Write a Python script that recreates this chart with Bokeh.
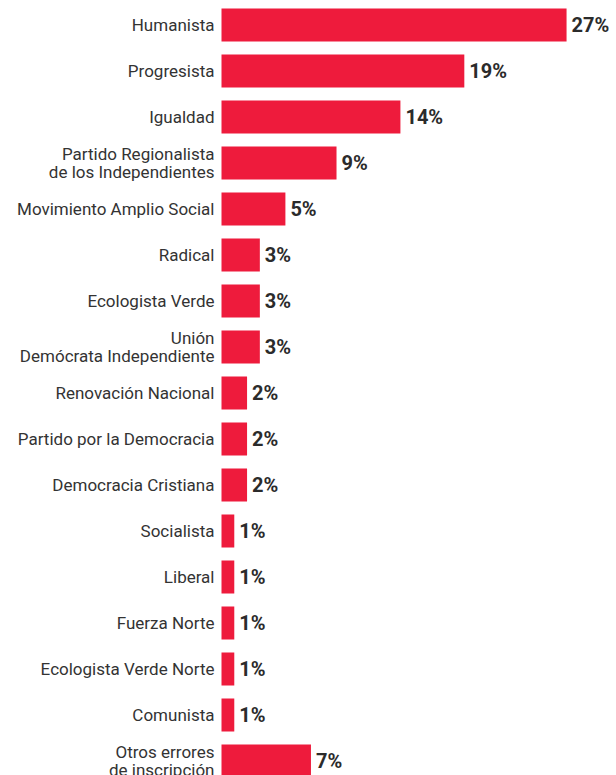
from bokeh.plotting import figure
from bokeh.models import Range1d, ColumnDataSource
from bokeh.core.properties import value
from bokeh.embed import file_html
from bokeh.resources import INLINE

categories = [
    "Humanista",
    "Progresista",
    "Igualdad",
    "Partido Regionalista\nde los Independientes",
    "Movimiento Amplio Social",
    "Radical",
    "Ecologista Verde",
    "Unión\nDemócrata Independiente",
    "Renovación Nacional",
    "Partido por la Democracia",
    "Democracia Cristiana",
    "Socialista",
    "Liberal",
    "Fuerza Norte",
    "Ecologista Verde Norte",
    "Comunista",
    "Otros errores\nde inscripción",
]
values = [27, 19, 14, 9, 5, 3, 3, 3, 2, 2, 2, 1, 1, 1, 1, 1, 7]
value_labels = [f"{v}%" for v in values]

idx = list(range(len(categories)))
src = ColumnDataSource(dict(idx=idx, cat=categories, val=values, lab=value_labels))

PX_PER_UNIT = 12.78
PITCH = 46.0
TOP_CENTER = 24.5
W, H = 616, 775
left_px = 221  # bar origin from figure's left edge
p = figure(
    width=W, height=H,
    x_range=Range1d(-left_px / PX_PER_UNIT, (W - left_px) / PX_PER_UNIT),
    y_range=Range1d((H - TOP_CENTER) / PITCH, -TOP_CENTER / PITCH),
    output_backend="svg", toolbar_location=None,
    min_border=0, min_border_left=0, min_border_right=0,
    min_border_top=0, min_border_bottom=0,
)
p.xaxis.visible = False
p.yaxis.visible = False
p.grid.visible = False
p.outline_line_color = None
p.background_fill_color = "white"
p.border_fill_color = "white"

p.hbar(y="idx", left=0, right="val", height=0.717, source=src,
       fill_color="#ee1b3c", line_color=None)

p.text(x=0, y="idx", text="cat", source=src, x_offset=-7,
       text_align="right", text_baseline="middle",
       text_font=value("Roboto"), text_font_size="17px",
       text_color="#333333", text_line_height=0.88)

p.text(x="val", y="idx", text="lab", source=src, x_offset=5,
       text_align="left", text_baseline="middle",
       text_font=value("Roboto"), text_font_size="20px",
       text_font_style="bold", text_color="#2b2b2b")

open("out.html", "w").write(file_html(p, INLINE))
